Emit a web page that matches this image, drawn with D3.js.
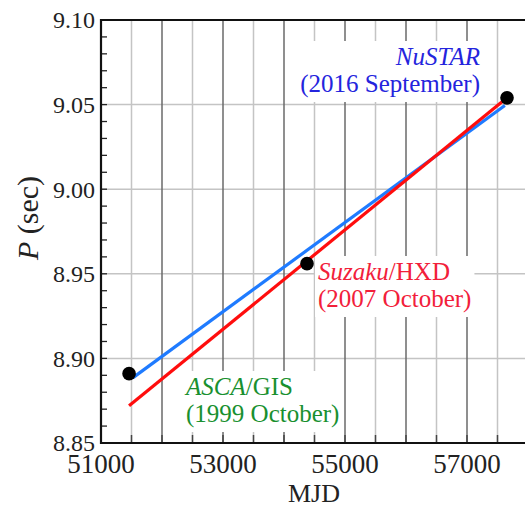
<!DOCTYPE html>
<html>
<head>
<meta charset="utf-8">
<script src="https://cdn.jsdelivr.net/npm/d3@7"></script>
<style>
  body { margin: 0; background: #fff; }
</style>
</head>
<body>
<svg id="chart" width="525" height="506" font-family="Liberation Serif"></svg>
<script>
// observations (MJD, period in sec)
var obsNames = ["ASCA", "Suzaku", "NuSTAR"];
var obsMjd = [51460, 54377, 57656];
var obsPeriod = [8.891, 8.956, 9.054];

// fitted lines, given by their two ends
var blueMjd = [51520, 57620];
var bluePeriod = [8.8885, 9.0495];
var redMjd = [51460, 57656];
var redPeriod = [8.872, 9.054];

var xTickLabels = [51000, 53000, 55000, 57000];
var yTickLabels = [8.85, 8.90, 8.95, 9.00, 9.05, 9.10];

var chart = {};
chart.left = 101;
chart.top = 20;
chart.bottom = 443;
chart.right = 528;
chart.font = "Liberation Serif";

var svg = d3.select("#chart");

var x = d3.scaleLinear().domain([51000, 58000]).range([chart.left, chart.right]);
var y = d3.scaleLinear().domain([8.85, 9.10]).range([chart.bottom, chart.top]);

// grid
var grid = svg.append("g");
grid.selectAll(".hg")
    .data(yTickLabels.slice(1, -1))
    .enter().append("line")
    .attr("x1", chart.left).attr("x2", chart.right)
    .attr("y1", function(d) { return y(d); })
    .attr("y2", function(d) { return y(d); })
    .style("stroke", "#c4c4c4").style("stroke-width", 1.5);

grid.selectAll(".vg")
    .data(d3.range(51500, 58000, 500))
    .enter().append("line")
    .attr("y1", chart.top).attr("y2", chart.bottom)
    .attr("x1", function(d) { return x(d); })
    .attr("x2", function(d) { return x(d); })
    .style("stroke", function(d) { return d % 1000 === 0 ? "#6a6a6a" : "#c4c4c4"; })
    .style("stroke-width", 1.5);

// labels with white boxes (drawn before the minor ticks)
var labels = [
    {color: "#2424dd", x: 480, y: 65, anchor: "end", lines: [[["NuSTAR", true]], [["(2016 September)", false]]]},
    {color: "#f2203a", x: 318, y: 280, anchor: "start", lines: [[["Suzaku", true], ["/HXD", false]], [["(2007 October)", false]]]},
    {color: "#19902f", x: 186, y: 395, anchor: "start", lines: [[["ASCA", true], ["/GIS", false]], [["(1999 October)", false]]]}
];

labels.forEach(function(lab) {
    var g = svg.append("g");
    var box = g.append("rect").style("fill", "#fff");
    var t = g.append("text")
        .attr("text-anchor", lab.anchor)
        .attr("font-family", chart.font)
        .attr("font-size", 25)
        .style("fill", lab.color);
    lab.lines.forEach(function(line, i) {
        var row = t.append("tspan").attr("x", lab.x).attr("y", lab.y + i * 27);
        line.forEach(function(part) {
            row.append("tspan").text(part[0]).attr("font-style", part[1] ? "italic" : "normal");
        });
    });
    var bb = t.node().getBBox();
    box.attr("x", bb.x - 3).attr("y", bb.y - 2)
       .attr("width", bb.width + 6).attr("height", bb.height + 6);
});

// minor ticks
svg.append("g").selectAll("line")
    .data(d3.range(8.86, 9.10, 0.01))
    .enter().append("line")
    .attr("x1", chart.left).attr("x2", chart.left + 6)
    .attr("y1", function(d) { return y(d); })
    .attr("y2", function(d) { return y(d); })
    .style("stroke", "#222").style("stroke-width", 1.3);

svg.append("g").selectAll("line")
    .data(d3.range(51500, 58000, 500))
    .enter().append("line")
    .attr("y1", chart.bottom).attr("y2", chart.bottom - 8)
    .attr("x1", function(d) { return x(d); })
    .attr("x2", function(d) { return x(d); })
    .style("stroke", "#444").style("stroke-width", 1.5);

// frame
svg.append("path")
    .attr("d", "M" + chart.right + "," + chart.top + "H" + chart.left + "V" + chart.bottom + "H" + chart.right)
    .style("fill", "none").style("stroke", "#111").style("stroke-width", 2.2);

// fit lines
var line = d3.line().x(function(d) { return x(d[0]); }).y(function(d) { return y(d[1]); });
svg.append("path")
    .datum(d3.zip(blueMjd, bluePeriod))
    .attr("d", line)
    .style("fill", "none").style("stroke", "#1f7bff").style("stroke-width", 3.2);
svg.append("path")
    .datum(d3.zip(redMjd, redPeriod))
    .attr("d", line)
    .style("fill", "none").style("stroke", "#ff0d0d").style("stroke-width", 3.2);

// points
svg.append("g").selectAll("circle")
    .data(obsNames)
    .enter().append("circle")
    .attr("cx", function(d, i) { return x(obsMjd[i]); })
    .attr("cy", function(d, i) { return y(obsPeriod[i]); })
    .attr("r", 6.8)
    .style("fill", "#000");

// tick labels
svg.append("g").selectAll("text")
    .data(yTickLabels)
    .enter().append("text")
    .attr("x", chart.left - 6)
    .attr("y", function(d) { return y(d); })
    .attr("dy", "0.35em")
    .attr("text-anchor", "end")
    .attr("font-family", chart.font)
    .attr("font-size", 24)
    .style("fill", "#222")
    .text(function(d) { return d.toFixed(2); });

svg.append("g").selectAll("text")
    .data(xTickLabels)
    .enter().append("text")
    .attr("x", function(d) { return x(d); })
    .attr("y", 473)
    .attr("text-anchor", "middle")
    .attr("font-family", chart.font)
    .attr("font-size", 27)
    .style("fill", "#222")
    .text(function(d) { return d; });

// axis titles
svg.append("text")
    .attr("x", 314).attr("y", 502)
    .attr("text-anchor", "middle")
    .attr("font-family", chart.font)
    .attr("font-size", 26)
    .style("fill", "#222")
    .text("MJD");

var yt = svg.append("text")
    .attr("transform", "translate(38,218) rotate(-90)")
    .attr("text-anchor", "middle")
    .attr("font-family", chart.font)
    .attr("font-size", 30)
    .style("fill", "#222");
yt.append("tspan").text("P").attr("font-style", "italic");
yt.append("tspan").text(" (sec)");
</script>
</body>
</html>
